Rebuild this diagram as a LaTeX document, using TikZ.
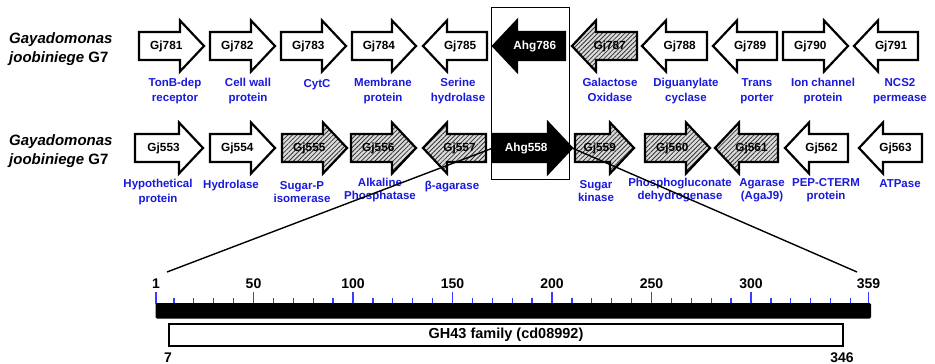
\documentclass[tikz,border=0pt]{standalone}
\usepackage{fontspec}
\setmainfont{Liberation Sans}
\usetikzlibrary{patterns.meta}
\definecolor{lblblue}{RGB}{25,25,220}
\definecolor{tickblue}{RGB}{60,60,255}
\tikzset{
  plaingene/.style={draw=black,line width=2.2pt,line join=miter,fill=white},
  blackgene/.style={draw=black,line width=2.2pt,line join=miter,fill=black},
  hatchgene/.style={draw=black,line width=2.2pt,line join=miter,preaction={fill=gray!28},
    pattern={Lines[angle=45,distance=3.2pt,line width=0.8pt]},pattern color=black!80},
  gtxt/.style={font=\fontsize{11.8}{13}\selectfont\bfseries,inner sep=0,text=black},
  wtxt/.style={gtxt,text=white},
  lblA/.style={font=\fontsize{11.5}{15}\selectfont\bfseries,text=lblblue,align=center,
    anchor=north,inner sep=0,execute at begin node={\rule{0pt}{9pt}}},
  lblB/.style={lblA,font=\fontsize{11.5}{13}\selectfont\bfseries},
  species/.style={font=\fontsize{15}{19}\selectfont\bfseries,align=left,anchor=north west,
    inner sep=0,execute at begin node={\rule{0pt}{11pt}}},
  numlbl/.style={font=\fontsize{14}{14}\selectfont\bfseries,anchor=base,inner sep=0},
  zoomline/.style={draw=black,line width=1.4pt},
  majtick/.style={draw=tickblue,line width=1.3pt},
  mintick/.style={draw=tickblue,line width=1.3pt},
}
% name, style, tail x, tip x, y, text, text style
\newcommand\gene[7]{%
  \pgfmathsetmacro\gsgn{sign(#4-#3)}%
  \pgfmathsetmacro\ghb{#4-24*\gsgn}%
  \pgfmathsetmacro\glx{#3+0.42*(#4-#3)}%
  \draw[#2] (#3,#5-14) -- (\ghb,#5-14) -- (\ghb,#5-25.5) -- (#4,#5) -- (\ghb,#5+25.5) -- (\ghb,#5+14) -- (#3,#5+14) -- cycle;
  \node[#7] (#1) at (\glx,#5) {#6};
  \coordinate (#1-tail) at (#3,#5);
  \coordinate (#1-tip) at (#4,#5);
}
\begin{document}
\begin{tikzpicture}[x=1pt,y=-1pt]
\useasboundingbox (0,0) rectangle (935,364);
% focus box
\node[draw=black,line width=0.9pt,inner sep=0,minimum width=78,minimum height=172,anchor=north west] (focus) at (491,7) {};
% species
\node[species] (sp1) at (9,32.5) {\textit{Gayadomonas}\\\textit{joobiniege} G7};
\node[species] (sp2) at (9,134.5) {\textit{Gayadomonas}\\\textit{joobiniege} G7};
% row 1
\gene{g781}{plaingene}{139}{204}{46}{Gj781}{gtxt}
\gene{g782}{plaingene}{210}{275}{46}{Gj782}{gtxt}
\gene{g783}{plaingene}{281}{346}{46}{Gj783}{gtxt}
\gene{g784}{plaingene}{352}{416}{46}{Gj784}{gtxt}
\gene{g785}{plaingene}{487}{423}{46}{Gj785}{gtxt}
\gene{a786}{blackgene}{565}{493}{46}{Ahg786}{wtxt}
\gene{g787}{hatchgene}{637}{572}{46}{Gj787}{gtxt}
\gene{g788}{plaingene}{707}{642}{46}{Gj788}{gtxt}
\gene{g789}{plaingene}{777}{713}{46}{Gj789}{gtxt}
\gene{g790}{plaingene}{783}{848}{46}{Gj790}{gtxt}
\gene{g791}{plaingene}{918}{854}{46}{Gj791}{gtxt}
% row 1 labels
\node[lblA] (l781) at (175,78.1) {TonB-dep\\receptor};
\node[lblA] (l782) at (248,78.1) {Cell wall\\protein};
\node[lblA] (l783) at (317,78.1) {CytC};
\node[lblA] (l784) at (383,78.1) {Membrane\\protein};
\node[lblA] (l785) at (458,78.1) {Serine\\hydrolase};
\node[lblA] (l787) at (610,78.1) {Galactose\\Oxidase};
\node[lblA] (l788) at (686,78.1) {Diguanylate\\cyclase};
\node[lblA] (l789) at (757,78.1) {Trans\\porter};
\node[lblA] (l790) at (823,78.1) {Ion channel\\protein};
\node[lblA] (l791) at (900,78.1) {NCS2\\permease};
% row 2
\gene{g553}{plaingene}{135}{203}{148}{Gj553}{gtxt}
\gene{g554}{plaingene}{210}{275}{148}{Gj554}{gtxt}
\gene{g555}{hatchgene}{282}{347}{148}{Gj555}{gtxt}
\gene{g556}{hatchgene}{351}{416}{148}{Gj556}{gtxt}
\gene{g557}{hatchgene}{486}{423}{148}{Gj557}{gtxt}
\gene{a558}{blackgene}{493}{572}{148}{Ahg558}{wtxt}
\gene{g559}{hatchgene}{575}{634}{148}{Gj559}{gtxt}
\gene{g560}{hatchgene}{645}{710}{148}{Gj560}{gtxt}
\gene{g561}{hatchgene}{778}{715}{148}{Gj561}{gtxt}
\gene{g562}{plaingene}{848}{785}{148}{Gj562}{gtxt}
\gene{g563}{plaingene}{922}{859}{148}{Gj563}{gtxt}
% row 2 labels
\node[lblA] (l553) at (158,179) {Hypothetical\\protein};
\node[lblB] (l554) at (231,179) {Hydrolase};
\node[lblB] (l555) at (302,181) {Sugar-P\\isomerase};
\node[lblB] (l556) at (380,178.1) {Alkaline\\Phosphatase};
\node[lblB] (l557) at (452,180) {β-agarase};
\node[lblB] (l559) at (596,180) {Sugar\\kinase};
\node[lblB] (l560) at (680,178.1) {Phosphogluconate\\dehydrogenase};
\node[lblB] (l561) at (762,178.1) {Agarase\\(AgaJ9)};
\node[lblB] (l562) at (826,178.1) {PEP-CTERM\\protein};
\node[lblB] (l563) at (900,178.1) {ATPase};
% protein scale
\foreach \v in {10,20,...,350} {
  \draw[mintick] ({156+(\v-1)*1.99},297.5) -- ({156+(\v-1)*1.99},303.5);
}
\foreach \v in {1,50,100,150,200,250,300,359} {
  \draw[majtick] ({156+(\v-1)*1.99},292) -- ({156+(\v-1)*1.99},303.5);
  \node[numlbl] (n\v) at ({156+(\v-1)*1.99},288) {\v};
}
\fill[black,rounded corners=1.5pt] (155.5,303) rectangle (871,318.5);
\node[draw=black,line width=2pt,inner sep=0,minimum width=674,minimum height=22,anchor=north west,
  font=\fontsize{14.5}{14.5}\selectfont\bfseries] (gh) at (168,323) {GH43 family (cd08992)};
\node[numlbl] (n7) at (168,362) {7};
\node[numlbl] (n346) at (842,362) {346};
% zoom lines
\coordinate (zl) at (167,272);
\coordinate (zr) at (857,272);
\draw[zoomline] (a558-tail) -- (zl);
\draw[zoomline] (a558-tip) -- (zr);
\end{tikzpicture}
\end{document}
